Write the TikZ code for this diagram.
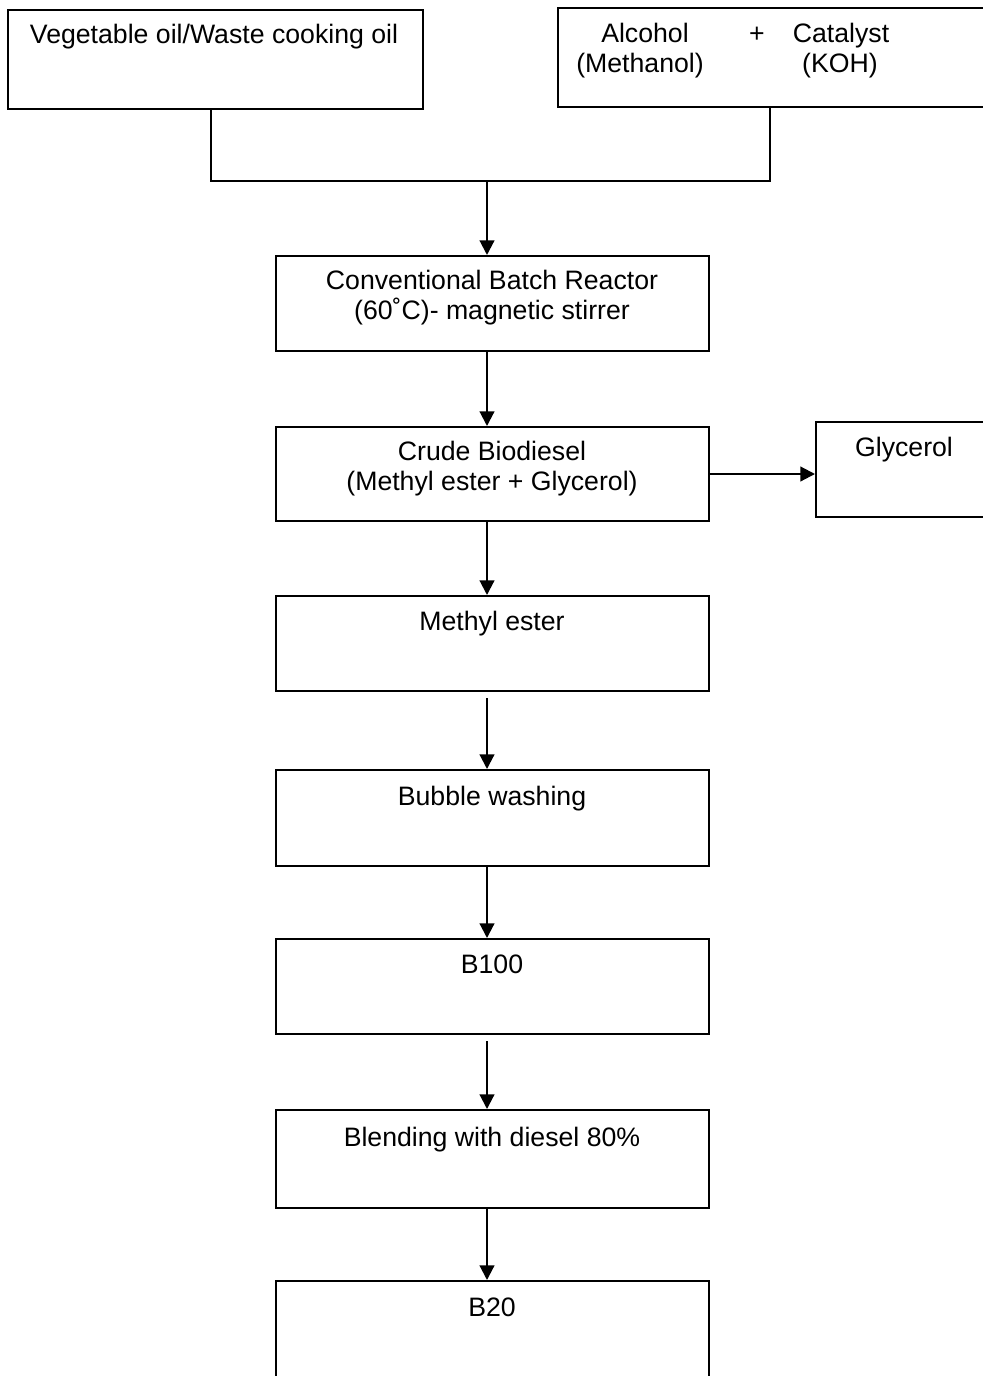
\documentclass[tikz,border=0pt]{standalone}
\usepackage{fontspec}
\setmainfont{Liberation Sans}
\usetikzlibrary{arrows.meta}
\begin{document}
\begin{tikzpicture}[x=0.75pt,y=-0.75pt,
  box/.style={draw,line width=1.5pt,inner sep=0pt,rectangle},
  txt/.style={anchor=base,inner sep=0pt,font=\fontsize{20}{24}\selectfont},
  conn/.style={line width=1.5pt},
  arr/.style={line width=1.6pt,-{Triangle[length=11pt,width=11pt]}}]
\useasboundingbox (0,0) rectangle (982,1376);
% boxes
\node[box,minimum width=415*0.75pt,minimum height=99*0.75pt] (a) at (215.5,59.5) {};
\node[box,minimum width=442*0.75pt,minimum height=99*0.75pt] (b) at (779,57.5) {};
\node[box,minimum width=433*0.75pt,minimum height=95*0.75pt] (c) at (492.5,303.5) {};
\node[box,minimum width=433*0.75pt,minimum height=94*0.75pt] (d) at (492.5,474) {};
\node[box,minimum width=184*0.75pt,minimum height=95*0.75pt] (g) at (908,469.5) {};
\node[box,minimum width=433*0.75pt,minimum height=95*0.75pt] (e) at (492.5,643.5) {};
\node[box,minimum width=433*0.75pt,minimum height=96*0.75pt] (f) at (492.5,818) {};
\node[box,minimum width=433*0.75pt,minimum height=95*0.75pt] (h) at (492.5,986.5) {};
\node[box,minimum width=433*0.75pt,minimum height=98*0.75pt] (k) at (492.5,1159) {};
\node[box,minimum width=433*0.75pt,minimum height=119*0.75pt] (m) at (492.5,1340.5) {};
% texts
\node[txt] (ta) at (214,44) {Vegetable oil/Waste cooking oil};
\node[txt] (tb1) at (645,43) {Alcohol};
\node[txt] (tb2) at (757,43) {+};
\node[txt] (tb3) at (841,43) {Catalyst};
\node[txt] (tb4) at (640,73) {(Methanol)};
\node[txt] (tb5) at (840,73) {(KOH)};
\node[txt] (tc1) at (492,290) {Conventional Batch Reactor};
\node[txt] (tc2) at (492,320) {(60˚C)- magnetic stirrer};
\node[txt] (td1) at (492,460) {Crude Biodiesel};
\node[txt] (td2) at (492,490) {(Methyl ester + Glycerol)};
\node[txt] (tg) at (904,456) {Glycerol};
\node[txt] (te) at (492,630) {Methyl ester};
\node[txt] (tf) at (492,805) {Bubble washing};
\node[txt] (th) at (492,973) {B100};
\node[txt] (tk) at (492,1146) {Blending with diesel 80\%};
\node[txt] (tm) at (492,1316) {B20};
% connectors
\coordinate (j1) at (211,181);
\coordinate (j2) at (770,181);
\coordinate (j3) at (487,181);
\draw[conn] (a.south -| j1) -- (j1) -- (j2) -- (b.south -| j2);
\draw[arr] (j3) -- (j3 |- c.north);
\draw[arr] (c.south -| j3) -- (d.north -| j3);
\draw[arr] (d.east) -- (g.west |- d.east);
\draw[arr] (d.south -| j3) -- (e.north -| j3);
\draw[arr,shorten <=4.5pt] (e.south -| j3) -- (f.north -| j3);
\draw[arr] (f.south -| j3) -- (h.north -| j3);
\draw[arr,shorten <=4.5pt] (h.south -| j3) -- (k.north -| j3);
\draw[arr] (k.south -| j3) -- (m.north -| j3);
\end{tikzpicture}
\end{document}
